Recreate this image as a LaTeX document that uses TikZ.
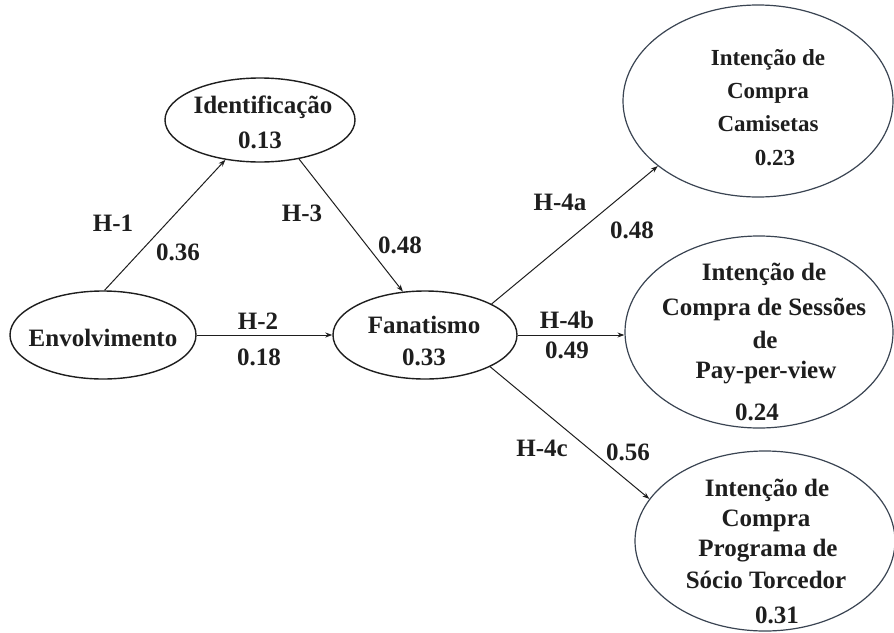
\documentclass[tikz,border=0pt]{standalone}
\usepackage{fontspec}
\setmainfont{Liberation Serif}
\usetikzlibrary{shapes.geometric,arrows.meta}
\definecolor{ink}{HTML}{1E1E1E}
\definecolor{rim}{HTML}{3A4452}
\begin{document}
\begin{tikzpicture}[x=1pt,y=-1pt,
  ell/.style={draw=ink,line width=1.4pt,ellipse,inner sep=0pt,fill=white},
  ellb/.style={ell,draw=rim,line width=1.2pt},
  txt/.style={anchor=base,inner sep=0pt,text=ink,font=\fontsize{25}{30}\selectfont\bfseries},
  txts/.style={txt,font=\fontsize{23}{28}\selectfont\bfseries},
  arr/.style={draw=ink,line width=1pt,-{Stealth[length=7pt,width=5pt]}}]
\useasboundingbox (0,0) rectangle (894,632);
% ellipses
\node[ell,minimum width=186pt,minimum height=88pt] (env) at (103,335) {};
\node[ell,minimum width=190pt,minimum height=84pt] (ident) at (260,120) {};
\node[ell,minimum width=184pt,minimum height=88pt] (fan) at (425,335) {};
\node[ellb,minimum width=270pt,minimum height=192pt] (cam) at (758,101) {};
\node[ellb,minimum width=268pt,minimum height=192pt] (ppv) at (759,332) {};
\node[ellb,minimum width=260pt,minimum height=180pt] (soc) at (765,541) {};
% texts
\node[txt] (envt) at (103,346) {Envolvimento};
\node[txt] (idt1) at (263,113) {Identificação};
\node[txt] (idt2) at (260,148) {0.13};
\node[txt] (fant1) at (424,333) {Fanatismo};
\node[txt] (fant2) at (424,365) {0.33};
\node[txts] (camt1) at (768,65) {Intenção de};
\node[txts] (camt2) at (768,98) {Compra};
\node[txts] (camt3) at (768,131) {Camisetas};
\node[txts] (camt4) at (775,165) {0.23};
\node[txt] (ppvt1) at (764,280) {Intenção de};
\node[txt] (ppvt2) at (764,315) {Compra de Sessões};
\node[txt] (ppvt3) at (765,348) {de};
\node[txt] (ppvt4) at (766,378) {Pay-per-view};
\node[txt] (ppvt5) at (757,420) {0.24};
\node[txt] (soct1) at (767,496) {Intenção de};
\node[txt] (soct2) at (766,526) {Compra};
\node[txt] (soct3) at (768,556) {Programa de};
\node[txt] (soct4) at (766,588) {Sócio Torcedor};
\node[txt] (soct5) at (777,623) {0.31};
% connectors
\draw[arr] (env.88) -- (ident.229);
\draw[arr] (ident.315) -- (fan.117);
\draw[arr] (env.east) -- (fan.west);
\draw[arr] (fan.25) -- (cam.213);
\draw[arr] (fan.east) -- (fan.east -| ppv.west);
\draw[arr] (fan.334) -- (soc.160);
% path labels
\node[txt] (h1) at (113,231) {H-1};
\node[txt] (v1) at (178,260) {0.36};
\node[txt] (h3) at (302,221) {H-3};
\node[txt] (v3) at (400,253) {0.48};
\node[txt] (h2) at (258,329) {H-2};
\node[txt] (v2) at (259,365) {0.18};
\node[txt] (h4a) at (560,210) {H-4a};
\node[txt] (v4a) at (632,238) {0.48};
\node[txt] (h4b) at (567,328) {H-4b};
\node[txt] (v4b) at (567,358) {0.49};
\node[txt] (h4c) at (542,456) {H-4c};
\node[txt] (v4c) at (628,460) {0.56};
\end{tikzpicture}
\end{document}
